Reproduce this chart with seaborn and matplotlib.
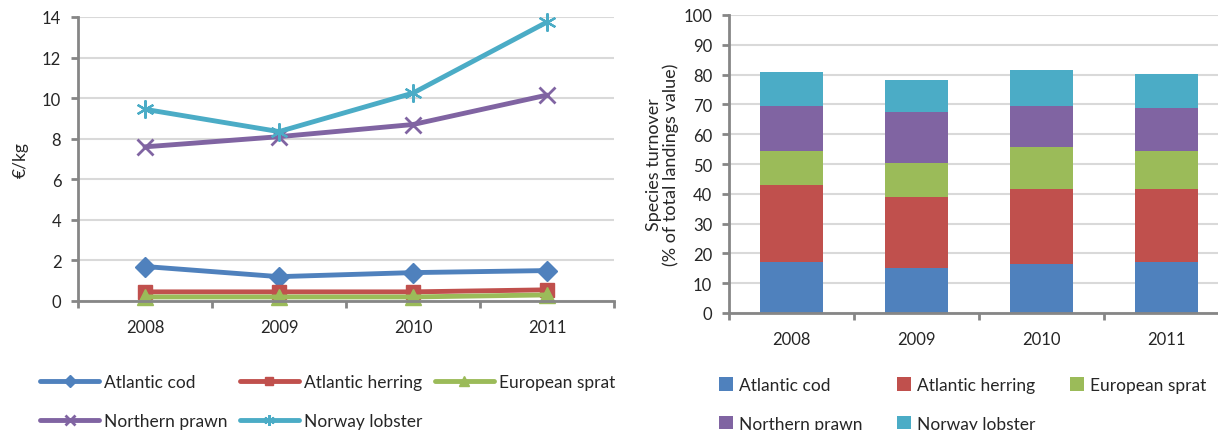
import numpy as np
import pandas as pd
import matplotlib
matplotlib.use('Agg')
import matplotlib.pyplot as plt
from matplotlib.patches import Patch
from matplotlib.ticker import FixedLocator
import seaborn as sns

# categories
years = ['2008', '2009', '2010', '2011']
species = ['Atlantic cod', 'Atlantic herring', 'European sprat',
           'Northern prawn', 'Norway lobster']
colors = ['#4F81BD', '#C0504D', '#9BBB59', '#8064A2', '#4BACC6']
markers = ['D', 's', '^', 'x', (6, 2, 0)]
marker_sizes = [10, 10, 11, 11, 13]
marker_edges = [1, 1, 1, 2, 1.6]

# average price (EUR/kg)
price_cod = [1.7, 1.2, 1.4, 1.5]
price_herring = [0.45, 0.45, 0.45, 0.55]
price_sprat = [0.2, 0.2, 0.2, 0.3]
price_prawn = [7.6, 8.1, 8.7, 10.15]
price_lobster = [9.45, 8.35, 10.25, 13.75]

# share of total landings value (%)
share_cod = [17.0, 15.0, 16.3, 17.0]
share_herring = [26.0, 24.0, 25.4, 24.7]
share_sprat = [11.5, 11.5, 14.1, 12.8]
share_prawn = [15.0, 16.8, 13.7, 14.2]
share_lobster = [11.5, 11.0, 12.2, 11.6]

prices = [price_cod, price_herring, price_sprat, price_prawn, price_lobster]
shares = [share_cod, share_herring, share_sprat, share_prawn, share_lobster]

sns.set_style('white')
plt.rcParams['font.family'] = ['Lato', 'DejaVu Sans']
plt.rcParams['font.size'] = 12

AXIS_GREY = '#868686'
GRID_GREY = '#d9d9d9'

fig = plt.figure(figsize=(12.18, 4.31), dpi=100)
ax1 = fig.add_axes([78 / 1218, 1 - 302 / 431, 536 / 1218, 284 / 431])
ax2 = fig.add_axes([729 / 1218, 1 - 314 / 431, 489 / 1218, 298 / 431])


def style_axis(ax):
    for side in ['top', 'right']:
        ax.spines[side].set_visible(False)
    for side in ['left', 'bottom']:
        ax.spines[side].set_color(AXIS_GREY)
        ax.spines[side].set_linewidth(2)
    ax.set_axisbelow(True)
    ax.yaxis.grid(True, color=GRID_GREY, linewidth=1.5)
    ax.xaxis.grid(False)
    # Excel style: tick marks between categories, labels at the centres
    ax.xaxis.set_minor_locator(FixedLocator([-0.5, 0.5, 1.5, 2.5, 3.5]))
    ax.tick_params(axis='x', which='major', length=0, labelsize=12, pad=13)
    ax.tick_params(axis='x', which='minor', length=5, width=2, color=AXIS_GREY,
                   direction='out', bottom=True)
    ax.tick_params(axis='y', which='major', length=5, width=2, color=AXIS_GREY,
                   direction='out', left=True, labelsize=12, pad=7)


# ---- left: prices ----
for name, vals, c, m, ms, mew in zip(species, prices, colors, markers,
                                     marker_sizes, marker_edges):
    sns.lineplot(x=years, y=vals, color=c, marker=m, markersize=ms,
                 markeredgecolor=c, markerfacecolor=c, markeredgewidth=mew,
                 linewidth=3.5, ax=ax1, label=name, legend=False, clip_on=False)

ax1.set_xlim(-0.5, 3.5)
ax1.set_ylim(0, 14)
ax1.set_yticks(range(0, 15, 2))
ax1.set_xlabel('')
ax1.set_ylabel('€/kg', fontsize=12.5)
ax1.yaxis.set_label_coords((29 - 78) / 536, 0.5)
style_axis(ax1)

line_handles = ax1.get_lines()[:5]
order = [0, 3, 1, 4, 2]
fig.legend([line_handles[i] for i in order], [species[i] for i in order],
           loc='upper left', bbox_to_anchor=(40 / 1218, 1 - 375 / 431),
           ncol=3, frameon=False, fontsize=12.5, numpoints=1, markerscale=0.6,
           handlelength=3.4, handletextpad=0.3, columnspacing=0.7,
           labelspacing=1.35, borderpad=0, borderaxespad=0)

# ---- right: stacked shares ----
cum = np.cumsum(np.array(shares), axis=0)
for i in range(len(species) - 1, -1, -1):
    sns.barplot(x=years, y=cum[i], color=colors[i], saturation=1, width=0.5,
                ax=ax2, linewidth=0)

ax2.set_xlim(-0.5, -0.5 + 489 / 125)
ax2.set_ylim(0, 100)
ax2.set_yticks(range(0, 101, 10))
ax2.set_xlabel('')
ax2.set_ylabel('Species turnover\n(% of total landings value)', fontsize=13,
               linespacing=1.05)
ax2.yaxis.set_label_coords((679 - 729) / 489, 0.5)
style_axis(ax2)

patches = [Patch(facecolor=c, edgecolor='none') for c in colors]
fig.legend([patches[i] for i in order], [species[i] for i in order],
           loc='upper left', bbox_to_anchor=(719 / 1218, 1 - 378 / 431),
           ncol=3, frameon=False, fontsize=12.5,
           handlelength=0.8, handleheight=0.8, handletextpad=0.35,
           columnspacing=2.0, labelspacing=1.3, borderpad=0, borderaxespad=0)

fig.savefig('out.png', dpi=100)
